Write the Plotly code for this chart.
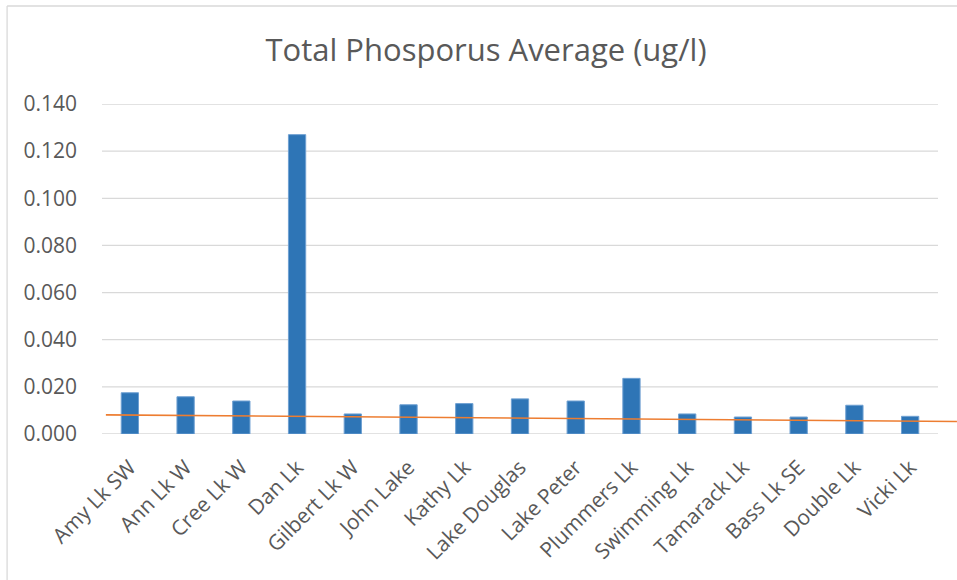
import plotly.graph_objects as go

categories = ["Amy Lk SW", "Ann Lk W", "Cree Lk W", "Dan Lk", "Gilbert Lk W", "John Lake",
              "Kathy Lk", "Lake Douglas", "Lake Peter", "Plummers Lk", "Swimming Lk",
              "Tamarack Lk", "Bass Lk SE", "Double Lk", "Vicki Lk"]
tp_avg = [0.0175, 0.0158, 0.0140, 0.1270, 0.0085, 0.0124, 0.0129, 0.0149, 0.0140,
          0.0236, 0.0085, 0.0072, 0.0072, 0.0122, 0.0075]
y_ticks = [0.000, 0.020, 0.040, 0.060, 0.080, 0.100, 0.120, 0.140]
# trend line (as drawn): value at first and last category, plus forecast extents
trend_first = 0.00802
trend_last = 0.00546
trend_backward = 0.43
trend_forward = 0.84

n = len(categories)
idx = list(range(n))
slope = (trend_last - trend_first) / (n - 1)
tx = [-trend_backward, n - 1 + trend_forward]
ty = [trend_first + slope * x for x in tx]

GRID = "#d9d9d9"
TXT = "#595959"
FONT = "Open Sans"

fig = go.Figure()
fig.add_trace(go.Bar(
    x=idx, y=tp_avg, width=0.31,
    marker=dict(color="#2E75B6", line=dict(color="#6FA0D2", width=1)),
    hoverinfo="y",
))
fig.add_trace(go.Scatter(
    x=tx, y=ty, mode="lines",
    line=dict(color="#ED7D31", width=1.6),
    hoverinfo="skip",
))

shapes = []
for t in y_ticks:
    shapes.append(dict(type="line", xref="x", yref="y", x0=-0.5, x1=n - 0.5, y0=t, y1=t,
                       line=dict(color=GRID, width=1.3), layer="below"))
# chart border (top and left edges visible in the crop)
shapes.append(dict(type="line", xref="paper", yref="paper", x0=-0.111, x1=1.05,
                   y0=1.297, y1=1.297, line=dict(color=GRID, width=1.3), layer="below"))
shapes.append(dict(type="line", xref="paper", yref="paper", x0=-0.111, x1=-0.111,
                   y0=-0.5, y1=1.297, line=dict(color=GRID, width=1.3), layer="below"))

fig.update_layout(
    width=957, height=580,
    margin=dict(l=102, r=0, t=104, b=146),
    paper_bgcolor="white", plot_bgcolor="white",
    showlegend=False,
    shapes=shapes,
    title=dict(text="Total Phosporus Average (ug/l)", x=486 / 957, xanchor="center",
               xref="container", y=1 - 50 / 580, yanchor="middle", yref="container",
               font=dict(family=FONT, size=31, color=TXT)),
    font=dict(family=FONT, color=TXT),
)
fig.update_xaxes(
    range=[-0.5, n - 0.5 + 19 / 55.73],
    tickvals=idx, ticktext=categories, tickangle=-45,
    tickfont=dict(family=FONT, size=21, color=TXT),
    showgrid=False, zeroline=False, showline=False, ticks="",
    ticklabelstandoff=16,
)
fig.update_yaxes(
    range=[0, 0.14], tickvals=y_ticks, tickformat=".3f",
    tickfont=dict(family=FONT, size=21, color=TXT),
    showgrid=False, zeroline=False, showline=False, ticks="",
    ticklabelstandoff=24,
)
fig.write_html("out.html", config={"displayModeBar": False},
               post_script=("document.body.style.margin='0';"
                            "document.body.style.overflow='hidden';"
                            "document.documentElement.style.overflow='hidden';"))
